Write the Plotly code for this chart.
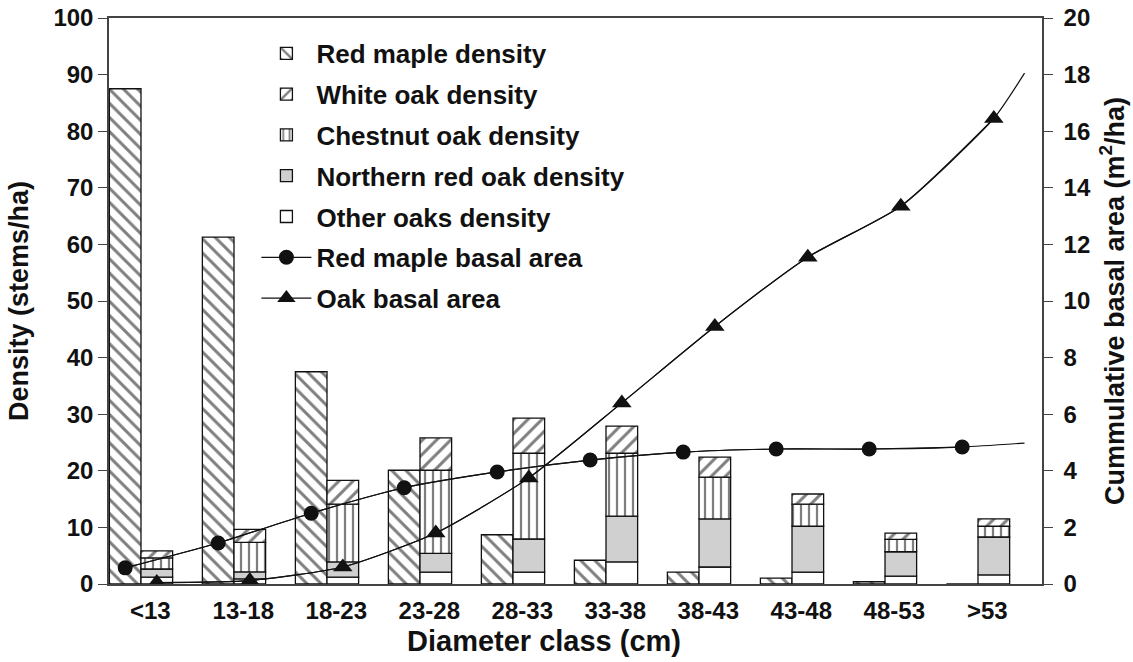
import plotly.graph_objects as go

# ---------------- data ----------------
categories = ["<13", "13-18", "18-23", "23-28", "28-33", "33-38", "38-43", "43-48", "48-53", ">53"]

red_maple_density = [87.5, 61.3, 37.5, 20.1, 8.7, 4.2, 2.1, 1.05, 0.4, 0.0]
other_oaks_density = [1.2, 0.9, 1.2, 2.1, 2.1, 3.9, 3.0, 2.1, 1.4, 1.6]
northern_red_oak_density = [1.45, 1.25, 2.7, 3.3, 5.85, 8.1, 8.5, 8.1, 4.3, 6.7]
chestnut_oak_density = [1.95, 5.2, 10.2, 14.7, 15.15, 11.1, 7.4, 3.9, 2.2, 1.9]
white_oak_density = [1.25, 2.3, 4.2, 5.7, 6.2, 4.8, 3.5, 1.8, 1.1, 1.3]

red_maple_basal_area = [0.57, 1.45, 2.5, 3.4, 3.96, 4.38, 4.66, 4.77, 4.77, 4.84]
oak_basal_area = [0.05, 0.12, 0.6, 1.8, 3.75, 6.4, 9.1, 11.55, 13.35, 16.45]
red_maple_curve_tail = 4.98
oak_curve_tail = 18.05

left_ticks = list(range(0, 101, 10))
right_ticks = list(range(0, 21, 2))

# ---------------- layout helpers ----------------
idx = list(range(len(categories)))
BW = 0.34
OFF = 0.17
x_maple = [i - OFF for i in idx]
x_oak = [i + OFF for i in idx]
x_tail = len(categories) - 0.5

FONT = "Liberation Sans, Arial, sans-serif"
INK = "#111111"
OUT = dict(color=INK, width=1.3)

def cum(*arrs):
    return [sum(v) for v in zip(*arrs)]

fig = go.Figure()

fig.add_trace(go.Bar(
    x=x_maple, y=red_maple_density, width=BW, name="Red maple density",
    marker=dict(color="white", line=OUT,
                pattern=dict(shape="\\", fgcolor="#000", bgcolor="white", size=10, solidity=0.3)),
    legendrank=1, legendgroup="a"))

fig.add_trace(go.Bar(
    x=x_oak, y=other_oaks_density, width=BW, name="Other oaks density",
    marker=dict(color="white", line=OUT), legendrank=5, legendgroup="e"))

fig.add_trace(go.Bar(
    x=x_oak, y=northern_red_oak_density, base=cum(other_oaks_density), width=BW,
    name="Northern red oak density",
    marker=dict(color="#d0d0d0", line=OUT), legendrank=4, legendgroup="d"))

fig.add_trace(go.Bar(
    x=x_oak, y=chestnut_oak_density,
    base=cum(other_oaks_density, northern_red_oak_density), width=BW,
    name="Chestnut oak density",
    marker=dict(color="white", line=OUT,
                pattern=dict(shape="|", fgcolor="#000", bgcolor="white", size=8, solidity=0.28)),
    legendrank=3, legendgroup="c"))

fig.add_trace(go.Bar(
    x=x_oak, y=white_oak_density,
    base=cum(other_oaks_density, northern_red_oak_density, chestnut_oak_density), width=BW,
    name="White oak density",
    marker=dict(color="white", line=OUT,
                pattern=dict(shape="/", fgcolor="#000", bgcolor="white", size=10, solidity=0.3)),
    legendrank=2, legendgroup="b"))

# curves (smooth lines through the markers, continuing past the last class)
fig.add_trace(go.Scatter(
    x=x_maple + [x_tail], y=red_maple_basal_area + [red_maple_curve_tail], yaxis="y2",
    mode="lines", line=dict(color=INK, width=1.2, shape="spline", smoothing=0.6),
    showlegend=False, hoverinfo="skip"))
fig.add_trace(go.Scatter(
    x=x_oak + [x_tail], y=oak_basal_area + [oak_curve_tail], yaxis="y2",
    mode="lines", line=dict(color=INK, width=1.2, shape="spline", smoothing=0.6),
    showlegend=False, hoverinfo="skip"))

fig.add_trace(go.Scatter(
    x=x_maple, y=red_maple_basal_area, yaxis="y2", name="Red maple basal area",
    mode="lines+markers", line=dict(color=INK, width=1.2, shape="spline", smoothing=0.6),
    marker=dict(symbol="circle", size=15, color="#111"), legendrank=6, legendgroup="f"))
fig.add_trace(go.Scatter(
    x=x_oak, y=oak_basal_area, yaxis="y2", name="Oak basal area",
    mode="lines+markers", line=dict(color=INK, width=1.2, shape="spline", smoothing=0.6),
    marker=dict(symbol="triangle-up", size=17, color="#111"), legendrank=7, legendgroup="g"))

axis_line = dict(showline=True, linecolor="#444", linewidth=1.5)

fig.update_layout(
    width=1133, height=662,
    margin=dict(l=109, r=91, t=18, b=78, autoexpand=False),
    paper_bgcolor="white", plot_bgcolor="white",
    barmode="overlay",
    font=dict(family=FONT, size=24, color=INK),
    xaxis=dict(range=[-0.344, 9.688], tickvals=[i + 0.1 for i in idx], ticktext=categories,
               ticks="", showgrid=False, zeroline=False, mirror=True, automargin=False,
               ticklabelstandoff=4,
               tickfont=dict(family=FONT, size=24, weight="bold"), **axis_line),
    yaxis=dict(range=[0, 100], tickvals=left_ticks, ticks="outside", ticklen=9, tickcolor="#444",
               showgrid=False, zeroline=False, automargin=False,
               tickfont=dict(family=FONT, size=24, weight="bold"),
               title=dict(text="Density (stems/ha)", standoff=17,
                          font=dict(family=FONT, size=27, weight="bold")), **axis_line),
    yaxis2=dict(range=[0, 20], tickvals=right_ticks, overlaying="y", side="right",
                ticks="outside", ticklen=9, tickcolor="#444", showgrid=False, zeroline=False,
                automargin=False, ticklabelstandoff=6,
                tickfont=dict(family=FONT, size=24, weight="bold"),
                title=dict(text="Cummulative basal area (m<sup>2</sup>/ha)", standoff=15,
                           font=dict(family=FONT, size=27, weight="bold")), **axis_line),
    legend=dict(x=0.158, y=0.979, xanchor="left", yanchor="top",
                bgcolor="rgba(255,255,255,0)", traceorder="grouped", tracegroupgap=4,
                itemwidth=50,
                font=dict(family=FONT, size=26, weight="bold", color=INK)),
    annotations=[dict(text="Diameter class (cm)", xref="paper", yref="paper",
                      x=(544 - 109) / 933, y=-0.1, xanchor="center", yanchor="middle",
                      showarrow=False, font=dict(family=FONT, size=29, weight="bold"))],
    showlegend=True,
)

fig.write_html("out.html")
